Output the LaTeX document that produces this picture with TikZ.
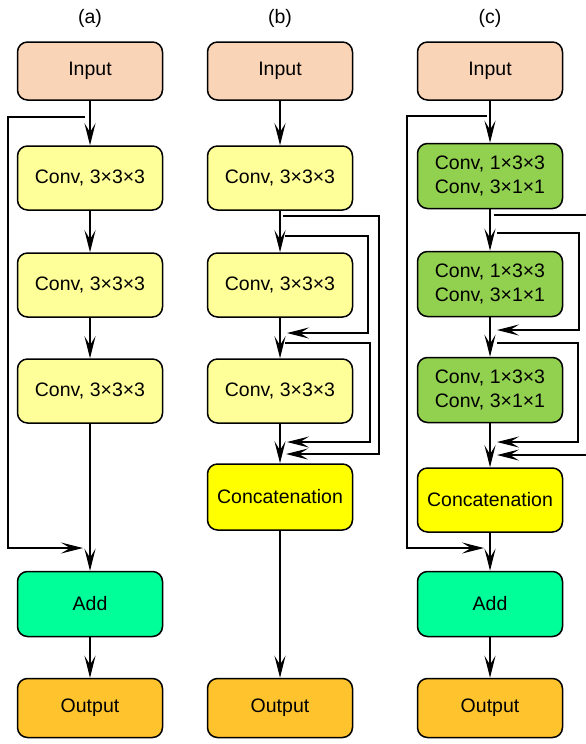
\documentclass[tikz,border=0pt]{standalone}
\usepackage{fontspec}
\setmainfont{Liberation Sans}
\usetikzlibrary{arrows.meta}
\definecolor{inputcol}{RGB}{250,212,182}
\definecolor{convcol}{RGB}{255,255,153}
\definecolor{sepcol}{RGB}{146,208,80}
\definecolor{catcol}{RGB}{255,255,0}
\definecolor{addcol}{RGB}{0,255,153}
\definecolor{outcol}{RGB}{255,196,45}
\tikzset{
	block/.style={draw, line width=1.5pt, rounded corners=10pt, minimum width=145pt,
		align=center, font=\fontsize{19.5}{24}\selectfont},
	link/.style={line width=1.1pt, -{Stealth[length=22pt,width=11pt,inset=9pt]}},
	title/.style={font=\fontsize{19.5}{24}\selectfont}
}

\begin{document}
\begin{tikzpicture}[x=1pt,y=-1pt]
\useasboundingbox (0,0) rectangle (586,744);
% (a) residual
\begin{scope}[shift={(90,0)}]
	\node[title] (aLab) at (0,18) {(a)};
	\node[block, fill=inputcol, minimum height=58pt] (aIn) at (0,71) {Input};
	\foreach \i/\y in {1/178,2/285,3/391}{
		\node[block, fill=convcol, minimum height=64pt] (aC\i) at (0,\y) {Conv, 3×3×3};
	}
	\node[block, fill=addcol, minimum height=65pt] (aAdd) at (0,604) {Add};
	\node[block, fill=outcol, minimum height=59pt] (aOut) at (0,708) {Output};
	\draw[link] (aIn) -- (aC1);
	\draw[link] (aC1) -- (aC2);
	\draw[link] (aC2) -- (aC3);
	\draw[link] (aC3) -- (aAdd);
	\draw[link] (aAdd) -- (aOut);
	\coordinate (aS) at (-5,117);
	\coordinate (aE) at (-7,548);
	\draw[link] (aS) -- ++(-77,0) |- (aE);
\end{scope}
% (b) dense
\begin{scope}[shift={(280,0)}]
	\node[title] (bLab) at (0,18) {(b)};
	\node[block, fill=inputcol, minimum height=58pt] (bIn) at (0,71) {Input};
	\foreach \i/\y in {1/178,2/285,3/391}{
		\node[block, fill=convcol, minimum height=64pt] (bC\i) at (0,\y) {Conv, 3×3×3};
	}
	\node[block, fill=catcol, minimum height=66pt] (bCat) at (0,497) {Concatenation};
	\node[block, fill=outcol, minimum height=59pt] (bOut) at (0,708) {Output};
	\draw[link] (bIn) -- (bC1);
	\draw[link] (bC1) -- (bC2);
	\draw[link] (bC2) -- (bC3);
	\draw[link] (bC3) -- (bCat);
	\draw[link] (bCat) -- (bOut);
	\coordinate (bS1) at (3,216);
	\coordinate (bE1) at (6,454);
	\coordinate (bS2) at (5,236);
	\coordinate (bE2) at (7,333);
	\coordinate (bS3) at (5,343);
	\coordinate (bE3) at (7,442);
	\draw[link] (bS1) -- ++(96,0) |- (bE1);
	\draw[link] (bS2) -- ++(83,0) |- (bE2);
	\draw[link] (bS3) -- ++(85,0) |- (bE3);
\end{scope}
% (c) separable + residual
\begin{scope}[shift={(490,0)}]
	\node[title] (cLab) at (0,18) {(c)};
	\node[block, fill=inputcol, minimum height=58pt] (cIn) at (0,71) {Input};
	\foreach \i/\y in {1/176,2/284,3/390}{
		\node[block, fill=sepcol, minimum height=65pt] (cC\i) at (0,\y) {Conv, 1×3×3\\Conv, 3×1×1};
	}
	\node[block, fill=catcol, minimum height=64pt] (cCat) at (0,500) {Concatenation};
	\node[block, fill=addcol, minimum height=65pt] (cAdd) at (0,604) {Add};
	\node[block, fill=outcol, minimum height=59pt] (cOut) at (0,708) {Output};
	\draw[link] (cIn) -- (cC1);
	\draw[link] (cC1) -- (cC2);
	\draw[link] (cC2) -- (cC3);
	\draw[link] (cC3) -- (cCat);
	\draw[link] (cCat) -- (cAdd);
	\draw[link] (cAdd) -- (cOut);
	\coordinate (cS) at (-3,116);
	\coordinate (cE) at (-6,548);
	\draw[link] (cS) -- ++(-80,0) |- (cE);
	\coordinate (cS1) at (4,215);
	\coordinate (cE1) at (7,455);
	\coordinate (cS2) at (7,233);
	\coordinate (cE2) at (7,330);
	\coordinate (cS3) at (7,343);
	\coordinate (cE3) at (7,442);
	\draw[link] (cS1) -- ++(110,0) |- (cE1);
	\draw[link] (cS2) -- ++(82,0) |- (cE2);
	\draw[link] (cS3) -- ++(81,0) |- (cE3);
\end{scope}
\end{tikzpicture}
\end{document}
